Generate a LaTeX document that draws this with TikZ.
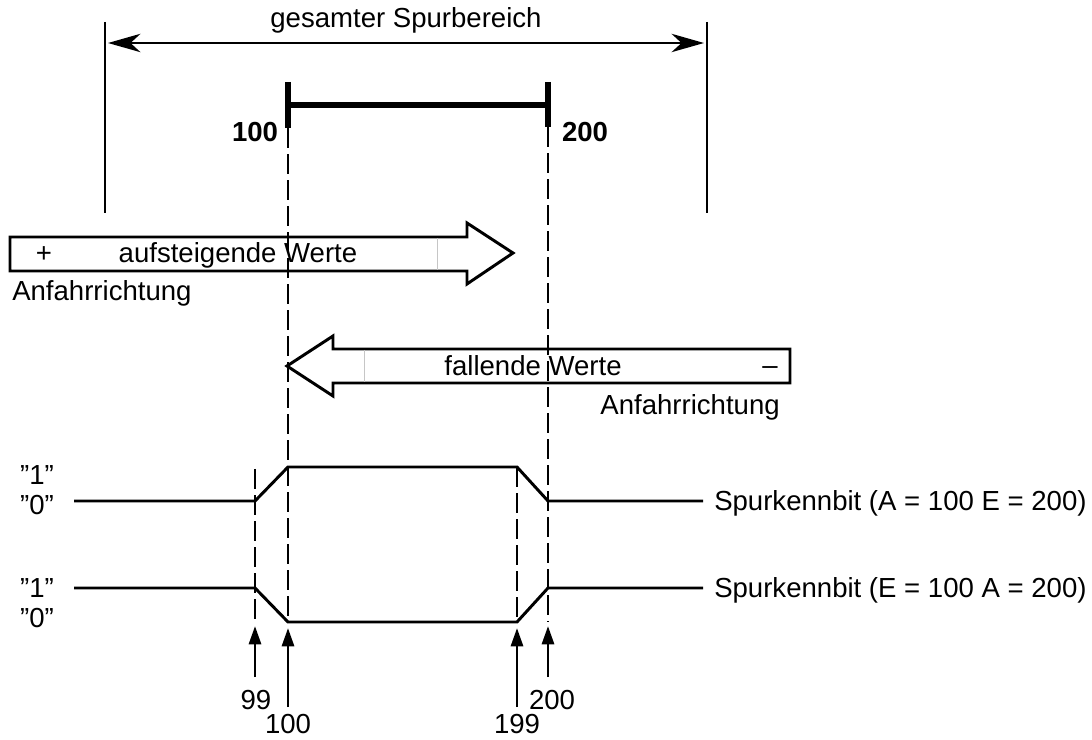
\documentclass[tikz,border=0pt]{standalone}
\usepackage{fontspec}
\setmainfont{Liberation Sans}
\usetikzlibrary{arrows.meta, positioning, calc}

\begin{document}
\begin{tikzpicture}[
  x=0.025cm, y=-0.025cm,
  lbl/.style={inner sep=0pt, font=\fontsize{19.6}{22}\selectfont},
  num/.style={inner sep=0pt, font=\fontsize{19.6}{22}\selectfont\bfseries},
  sig/.style={line width=2.1pt, line join=miter},
  guide/.style={line width=2pt, dash pattern=on 14pt off 4.5pt},
  bound/.style={line width=1.8pt},
  blockarrow/.style={draw, fill=white, line width=2.1pt, line join=miter},
  sep/.style={gray!45, line width=0.6pt},
  tickarrow/.style={line width=2.1pt, -{Triangle[length=13pt, width=8.5pt]}},
  span/.style={line width=2.1pt,
               {Stealth[length=23pt, width=13pt, inset=7pt]}-{Stealth[length=23pt, width=13pt, inset=7pt]}}
]
  \useasboundingbox (0,0) rectangle (1092,740);

  %% Total track range
  \coordinate (lt) at (105,22);  \coordinate (lb) at (105,213);
  \coordinate (rt) at (707,22);  \coordinate (rb) at (707,213);
  \draw[bound] (lt) -- (lb);
  \draw[bound] (rt) -- (rb);
  \coordinate (sl) at (108,43);  \coordinate (sr) at (704,43);
  \draw[span] (sl) -- node[lbl, above=6pt] (total) {gesamter Spurbereich} (sr);

  %% Track 100..200
  \coordinate (a100) at (288,105);  \coordinate (a200) at (548,105);
  \draw[line width=4pt] (a100) -- (a200);
  \draw[line width=4pt] (288,82) coordinate (t1) -- (288,128) coordinate (t1b);
  \draw[line width=4pt] (548,82) coordinate (t2) -- (548,127) coordinate (t2b);
  \node[num] (n100) at (255,132) {100};
  \node[num] (n200) at (585,132) {200};

  %% Ascending direction
  \draw[blockarrow] (10,237) -- (467,237) -- (467,223) -- (513,253)
    -- (467,284) -- (467,271) -- (10,271) -- cycle;
  \draw[sep] (437,238) -- (437,270);
  \node[lbl] (plus) at (44,255) {+};
  \node[lbl] (up) at (238,255) {aufsteigende Werte};
  \node[lbl, anchor=west] (updir) at (12,293) {Anfahrrichtung};

  %% Descending direction
  \draw[blockarrow] (790,349) -- (333,349) -- (333,336) -- (287,366)
    -- (333,396) -- (333,383) -- (790,383) -- cycle;
  \draw[sep] (364,350) -- (364,382);
  \node[lbl] (down) at (533,366) {fallende Werte};
  \node[lbl] (minus) at (770,371) {–};
  \node[lbl, anchor=east] (downdir) at (780,407) {Anfahrrichtung};

  %% Track bits
  \node[lbl] (one1)  at (37,475) {”1”};
  \node[lbl] (zero1) at (37,505) {”0”};
  \node[lbl] (one2)  at (37,588) {”1”};
  \node[lbl] (zero2) at (37,618) {”0”};

  \draw[sig] (74,501) -- (255,501) -- (288,467) -- (517,467) -- (548,501) -- (703,501);
  \draw[sig] (74,588) -- (255,588) -- (288,622) -- (517,622) -- (548,588) -- (703,588);
  \node[lbl, anchor=west] (bitA) at (714,503) {Spurkennbit (A = 100 E = 200)};
  \node[lbl, anchor=west] (bitE) at (714,590) {Spurkennbit (E = 100 A = 200)};

  %% Guide lines
  \coordinate (g99)  at (255,622);  \coordinate (g100) at (288,622);
  \coordinate (g199) at (517,622);  \coordinate (g200) at (548,622);
  \draw[guide] (t1b) -- (g100);
  \draw[guide] (t2b) -- (g200);
  \draw[guide] (255,469) -- (g99);
  \draw[guide] (517,467) -- (g199);

  %% Positions
  \node[lbl] (p99)  at (256,700) {99};
  \node[lbl] (p100) at (288,724) {100};
  \node[lbl] (p199) at (517,724) {199};
  \node[lbl] (p200) at (552,700) {200};
  \draw[tickarrow] (255,677) -- (255,626);
  \draw[tickarrow] (288,707) -- (288,628);
  \draw[tickarrow] (517,707) -- (517,628);
  \draw[tickarrow] (548,677) -- (548,626);

\end{tikzpicture}
\end{document}
